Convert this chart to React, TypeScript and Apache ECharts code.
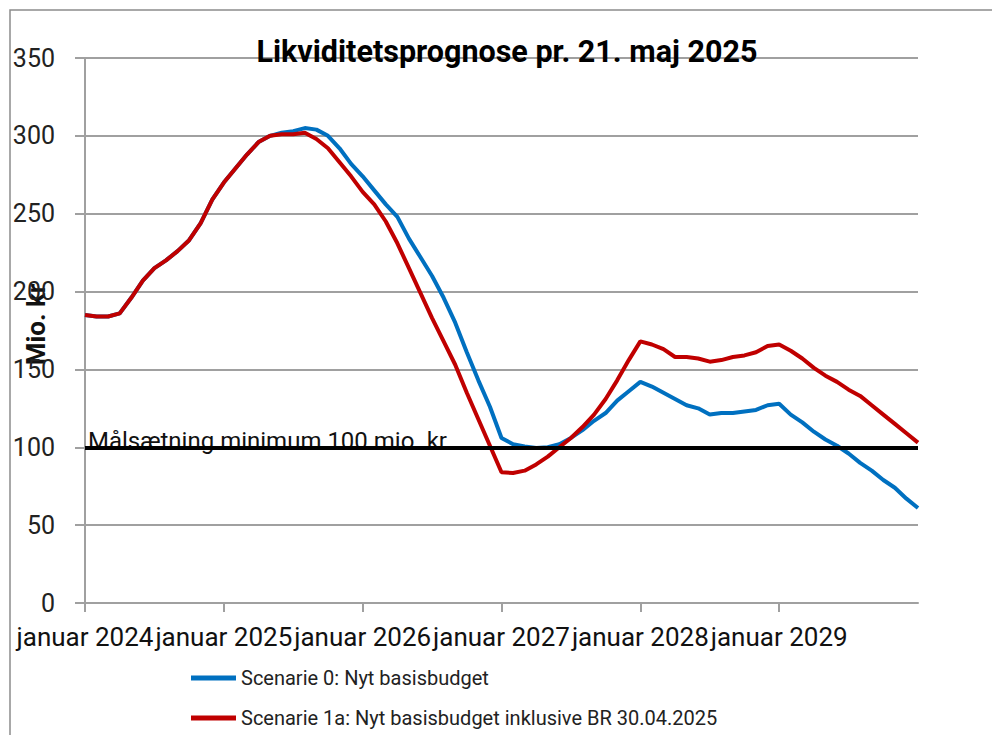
import React, { useEffect, useRef } from "react";
import * as echarts from "echarts";

const chartTitle = "Likviditetsprognose pr. 21. maj 2025";
const yAxisName = "Mio. kr";
const seriesNames = [
  "Scenarie 0: Nyt basisbudget",
  "Scenarie 1a: Nyt basisbudget inklusive BR 30.04.2025",
];
const startYear = 2024;
const endYear = 2030;
const tickYears = [2024, 2025, 2026, 2027, 2028, 2029];
const yTicks = [0, 50, 100, 150, 200, 250, 300, 350];
const targetValue = 100;
const targetLabel = "Målsætning minimum 100 mio. kr";

// monthly values, januar 2024 .. januar 2030
const scenario0 = [
  185, 184, 184, 186, 196, 207, 215, 220, 226, 233, 244, 259,
  270, 279, 288, 296, 300, 302, 303, 305, 304, 300, 292, 282,
  274, 265, 256, 248, 234, 222, 210, 196, 180, 161, 143, 126,
  106, 102, 100.5, 99.5, 100, 102, 106, 111, 117, 122, 130, 136,
  142, 139, 135, 131, 127, 125, 121, 122, 122, 123, 124, 127,
  128, 121, 116, 110, 105, 101, 96, 90, 85, 79, 74, 67,
  61,
];
const scenario1a = [
  185, 184, 184, 186, 196, 207, 215, 220, 226, 233, 244, 259,
  270, 279, 288, 296, 300, 301, 301, 302, 298, 292, 283, 274,
  264, 256, 245, 231, 215, 199, 183, 168, 153, 135, 118, 101,
  84, 83.5, 85, 89, 94, 100, 106, 113, 121, 131, 143, 156,
  168, 166, 163, 158, 158, 157, 155, 156, 158, 159, 161, 165,
  166, 162, 157, 151, 146, 142, 137, 133, 127, 121, 115, 109,
  103,
];

const colors = ["#0070C0", "#C00000"];
const FONT = "Roboto, 'Noto Sans', sans-serif";

function toPoints(values: number[]) {
  return values.map((v, i) => [startYear + i / 12, v]);
}

export default function App() {
  const ref = useRef<HTMLDivElement>(null);
  useEffect(() => {
    document.body.style.margin = "0";
    if (!ref.current) return;
    const chart = echarts.init(ref.current, undefined, { renderer: "svg" });
    const gray = "#a0a0a0";
    chart.setOption({
      animation: false,
      backgroundColor: "#ffffff",
      title: {
        text: chartTitle,
        left: 502,
        textAlign: "center",
        top: 31,
        z: 1,
        textStyle: { fontFamily: FONT, fontSize: 30.5, fontWeight: "bold", color: "#000" },
      },
      legend: {
        orient: "vertical",
        left: 186,
        top: 663,
        icon: "rect",
        itemWidth: 45,
        itemHeight: 5,
        itemGap: 20,
        data: seriesNames,
        textStyle: { fontFamily: FONT, fontSize: 20, color: "#222" },
      },
      grid: { left: 85, right: 74, top: 58, bottom: 132, containLabel: false, outerBoundsMode: "none" },
      xAxis: {
        type: "value",
        min: startYear,
        max: endYear,
        interval: 1,
        axisLine: { show: true, lineStyle: { color: gray, width: 2 } },
        axisTick: { show: true, length: 9, lineStyle: { color: gray, width: 2 }, customValues: tickYears },
        splitLine: { show: false },
        axisLabel: {
          customValues: tickYears,
          formatter: (v: number) => "januar " + Math.round(v),
          fontFamily: FONT,
          fontSize: 26,
          color: "#111",
          margin: 21,
          hideOverlap: false,
        },
      },
      yAxis: {
        type: "value",
        min: 0,
        max: 350,
        interval: 50,
        name: yAxisName,
        nameLocation: "middle",
        nameGap: 36,
        nameMoveOverlap: false,
        nameTextStyle: { fontFamily: FONT, fontSize: 26, fontWeight: "bold", color: "#111", padding: [0, 0, 0, 12] },
        axisLine: { show: true, lineStyle: { color: gray, width: 2 } },
        axisTick: { show: true, length: 10, lineStyle: { color: gray, width: 2 } },
        splitLine: { show: true, lineStyle: { color: gray, width: 2 } },
        axisLabel: {
          customValues: yTicks,
          fontFamily: FONT,
          fontSize: 25,
          color: "#222",
          margin: 30,
        },
      },
      series: [
        {
          name: seriesNames[0],
          type: "line",
          data: toPoints(scenario0),
          showSymbol: false,
          symbol: "none",
          z: 3,
          lineStyle: { color: colors[0], width: 4 },
          itemStyle: { color: colors[0] },
        },
        {
          name: seriesNames[1],
          type: "line",
          data: toPoints(scenario1a),
          showSymbol: false,
          symbol: "none",
          z: 4,
          lineStyle: { color: colors[1], width: 4 },
          itemStyle: { color: colors[1] },
        },
        {
          name: "target",
          type: "line",
          data: [],
          z: 10,
          markLine: {
            silent: true,
            symbol: "none",
            lineStyle: { color: "#000", width: 4, type: "solid" },
            label: { show: false },
            data: [{ yAxis: targetValue }],
          },
        },
      ],
    });
    const p = chart.convertToPixel({ gridIndex: 0 }, [startYear, targetValue]) as number[];
    chart.setOption({
      graphic: [
        {
          type: "rect",
          z: 0,
          silent: true,
          shape: { x: 10, y: 10, width: 1100, height: 900 },
          style: { fill: "none", stroke: "#8c8c8c", lineWidth: 1.5 },
        },
        {
          type: "text",
          z: 1,
          silent: true,
          x: p[0] + 3,
          y: p[1] + 6,
          style: {
            text: targetLabel,
            fontFamily: FONT,
            fontSize: 24,
            fill: "#111",
            textVerticalAlign: "bottom",
            verticalAlign: "bottom",
          },
        },
      ],
    });
    return () => chart.dispose();
  }, []);
  return <div ref={ref} style={{ width: 992, height: 735 }} />;
}
